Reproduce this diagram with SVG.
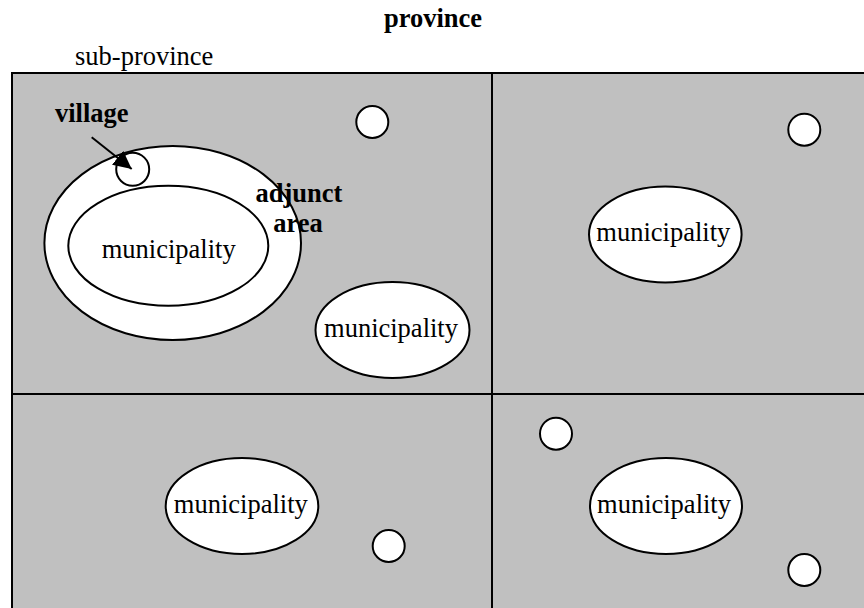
<svg xmlns="http://www.w3.org/2000/svg" width="864" height="608" viewBox="0 0 864 608">
  <style>
    .region { fill: #c0c0c0; stroke: #000; stroke-width: 2; }
    .divider { stroke: #000; stroke-width: 2; fill: none; }
    .area { fill: #fff; stroke: #000; stroke-width: 2; }
    .label { font-family: "Liberation Serif", "Times New Roman", serif; font-size: 26.5px; fill: #000; }
    .bold { font-weight: bold; }
    .mid { text-anchor: middle; }
    .link { stroke: #000; stroke-width: 2; fill: none; }
  </style>
  <defs>
    <marker id="arrowhead" markerUnits="userSpaceOnUse" markerWidth="20" markerHeight="20" refX="18" refY="9" orient="auto">
      <path d="M0,0 L18,9 L0,18 Z" fill="#000"/>
    </marker>
  </defs>

  <rect width="864" height="608" fill="#fff"/>

  <!-- titles -->
  <g id="province-title">
    <text class="label bold mid" x="433" y="27">province</text>
  </g>
  <g id="sub-province-title">
    <text class="label" x="75" y="65">sub-province</text>
  </g>

  <!-- province split into four sub-provinces -->
  <g id="sub-provinces">
    <rect class="region" x="12" y="73" width="870" height="560"/>
    <line class="divider" x1="492" y1="73" x2="492" y2="620"/>
    <line class="divider" x1="12" y1="394" x2="880" y2="394"/>
  </g>

  <!-- top-left sub-province -->
  <g id="adjunct-area">
    <ellipse class="area" cx="172.7" cy="243" rx="128.3" ry="97"/>
    <text class="label bold mid" x="299" y="202">adjunct</text>
    <text class="label bold mid" x="298" y="232">area</text>
  </g>
  <g id="municipality-1">
    <ellipse class="area" cx="168.3" cy="245.8" rx="100" ry="60"/>
    <text class="label mid" x="168.7" y="258">municipality</text>
  </g>
  <g id="village-1">
    <circle class="area" cx="132.7" cy="169.3" r="16.5"/>
    <text class="label bold" x="55" y="122">village</text>
  </g>
  <g id="village-2">
    <circle class="area" cx="372.3" cy="122" r="16"/>
  </g>
  <g id="municipality-2">
    <ellipse class="area" cx="392.5" cy="330" rx="77" ry="48"/>
    <text class="label mid" x="391" y="337">municipality</text>
  </g>

  <!-- top-right sub-province -->
  <g id="municipality-3">
    <ellipse class="area" cx="665.3" cy="234.5" rx="76.3" ry="48"/>
    <text class="label mid" x="663.3" y="241">municipality</text>
  </g>
  <g id="village-3">
    <circle class="area" cx="804.3" cy="129.7" r="16"/>
  </g>

  <!-- bottom-left sub-province -->
  <g id="municipality-4">
    <ellipse class="area" cx="242" cy="506" rx="76.3" ry="48"/>
    <text class="label mid" x="240.8" y="513">municipality</text>
  </g>
  <g id="village-4">
    <circle class="area" cx="388.7" cy="546" r="16"/>
  </g>

  <!-- bottom-right sub-province -->
  <g id="municipality-5">
    <ellipse class="area" cx="666" cy="506" rx="76" ry="48"/>
    <text class="label mid" x="664" y="513">municipality</text>
  </g>
  <g id="village-5">
    <circle class="area" cx="556" cy="433.7" r="16"/>
  </g>
  <g id="village-6">
    <circle class="area" cx="804.3" cy="570" r="16"/>
  </g>

  <!-- pointer from the village label -->
  <g id="connectors">
    <line class="link" x1="91.7" y1="137.3" x2="131.7" y2="169" marker-end="url(#arrowhead)"/>
  </g>
</svg>
